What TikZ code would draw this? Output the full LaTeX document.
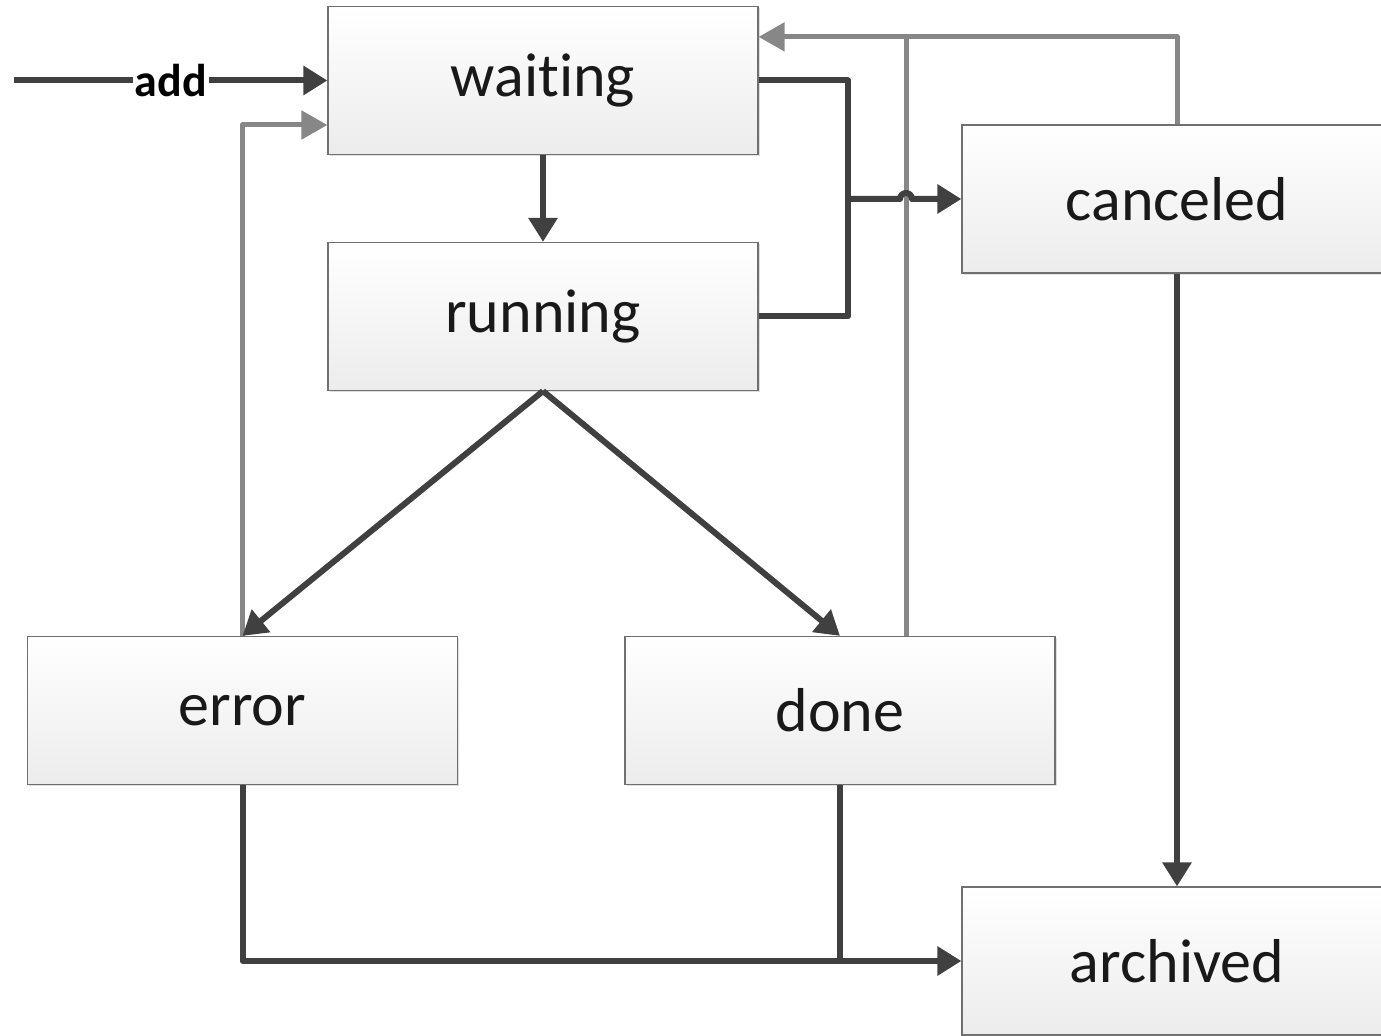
\documentclass[tikz,border=0pt]{standalone}
\usepackage{fontspec}
\setmainfont{Carlito}[Ligatures={NoCommon}]
\usetikzlibrary{arrows.meta,shadows,calc}
\definecolor{dkcol}{HTML}{404040}
\definecolor{grcol}{HTML}{878787}
\definecolor{boxborder}{HTML}{707070}
\definecolor{boxbottom}{HTML}{ECECEC}
\begin{document}
\begin{tikzpicture}[x=0.5pt,y=-0.5pt,
 state/.style={draw=boxborder, line width=0.6pt, top color=white, bottom color=boxbottom,
   minimum width=215pt, minimum height=74pt, inner sep=0pt,
   font=\fontsize{31}{31}\selectfont, text=black!90,
   drop shadow={shadow xshift=0.8pt, shadow yshift=-0.8pt, opacity=0.25, fill=gray}},
 darkconn/.style={draw=dkcol, line width=3pt, line join=round},
 darkarrow/.style={darkconn, -{Triangle[length=12pt,width=14pt]}},
 grayconn/.style={draw=grcol, line width=2.5pt, line join=round},
 grayarrow/.style={grayconn, -{Triangle[length=13pt,width=14pt]}}]
\useasboundingbox (0,0) rectangle (1381,1036);

\node[state] (waiting)  at (543,80.5)  {waiting};
\node[state] (running)  at (543,316.5) {running};
\node[state] (canceled) at (1177,199)  {canceled};
\node[state] (error)    at (242.5,710.5) {error};
\node[state] (done)     at (840,710.5) {done};
\node[state] (archived) at (1177,961)  {archived};

\coordinate (start) at (14,80.5);
\coordinate (j) at (848,199);
\coordinate (hopL) at (900,199);
\coordinate (doneup) at ($(done.north)+(66,0)$);
\coordinate (toprow) at ($(waiting.north east)+(0,31)$);
\coordinate (errin) at ($(waiting.west)+(0,44.5)$);

% gray feedback lines
\draw[grayconn] (doneup) -- (doneup |- toprow);
\draw[grayarrow] (canceled.north) |- (toprow);
\draw[grayarrow] (error.north) |- (errin);

% dark lines
\draw[darkarrow] (start) -- node[fill=white, inner sep=1pt, text=black, font=\bfseries\fontsize{23}{23}\selectfont]{add} (waiting.west);
\draw[darkarrow] (waiting.south) -- (running.north);
\draw[darkconn] (waiting.east) -| (j);
\draw[darkconn] (running.east) -| (j);
\draw[darkarrow] (j) -- (hopL) arc[start angle=180, end angle=360, radius=6] -- (canceled.west);
\draw[darkarrow] (running.south) -- (error.north);
\draw[darkarrow] (running.south) -- (done.north);
\draw[darkarrow] (canceled.south) -- (archived.north);
\draw[darkarrow] (error.south) |- (archived.west);
\draw[darkconn] (done.south) -- (done.south |- archived.west);
\end{tikzpicture}
\end{document}
